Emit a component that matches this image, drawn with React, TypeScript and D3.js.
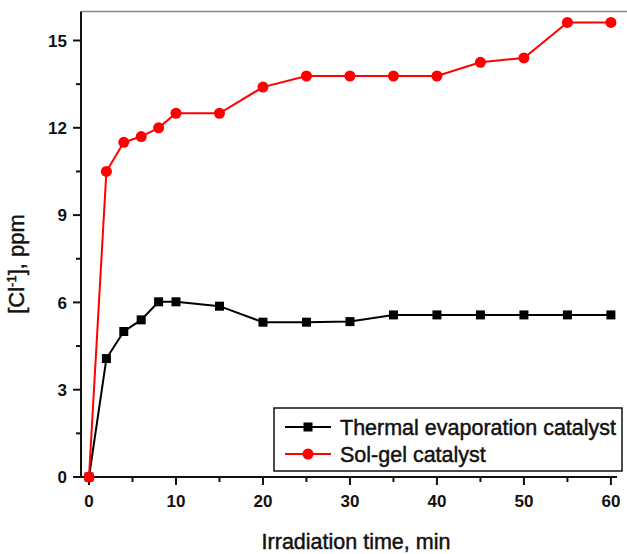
import React from "react";
import * as d3 from "d3";

const times = [0, 2, 4, 6, 8, 10, 15, 20, 25, 30, 35, 40, 45, 50, 55, 60];
const thermal = [0, 4.07, 5.0, 5.4, 6.02, 6.02, 5.87, 5.32, 5.32, 5.34, 5.57, 5.57, 5.57, 5.57, 5.57, 5.57];
const solgel = [0, 10.5, 11.5, 11.7, 12.0, 12.5, 12.5, 13.4, 13.78, 13.78, 13.78, 13.78, 14.25, 14.4, 15.62, 15.62];
const xTicks = [0, 10, 20, 30, 40, 50, 60];
const xMinor = [5, 15, 25, 35, 45, 55];
const yTicks = [0, 3, 6, 9, 12, 15];
const yMinor = [1.5, 4.5, 7.5, 10.5, 13.5];
const seriesNames = ["Thermal evaporation catalyst", "Sol-gel catalyst"];

const W = 627, H = 554;
const font = "'Liberation Sans', Arial, sans-serif";

export default function App() {
  const x = d3.scaleLinear().domain([-0.92, 60.7]).range([81, 617]);
  const y = d3.scaleLinear().domain([0, 16]).range([477, 11.4]);
  const line = d3.line<number>().x((_, i) => x(times[i])).y((v) => y(v));
  const x0 = x.range()[0], x1 = x.range()[1];
  const y0 = y.range()[0], yTop = y.range()[1];
  const txt = { fill: "#111", stroke: "#111", strokeWidth: 0.45 };

  return (
    <svg width={W} height={H} style={{ position: "absolute", left: 0, top: 0, background: "#fff" }} fontFamily={font}>
      {/* top frame */}
      <line x1={x0} x2={W} y1={yTop} y2={yTop} stroke="#888" strokeWidth={1.5} />
      {/* axes */}
      <line x1={x0} x2={x0} y1={yTop} y2={y0} stroke="#111" strokeWidth={2} />
      <line x1={x0} x2={x1} y1={y0} y2={y0} stroke="#111" strokeWidth={2} />
      {yTicks.map((t) => (
        <g key={"yt" + t}>
          <line x1={x0 - 8} x2={x0} y1={y(t)} y2={y(t)} stroke="#111" strokeWidth={2} />
          <text x={x0 - 14} y={y(t)} dy="0.36em" textAnchor="end" fontSize={17} fontWeight="bold" fill="#111">{t}</text>
        </g>
      ))}
      {yMinor.map((t) => (
        <line key={"ym" + t} x1={x0 - 5} x2={x0} y1={y(t)} y2={y(t)} stroke="#111" strokeWidth={2} />
      ))}
      {xTicks.map((t) => (
        <g key={"xt" + t}>
          <line x1={x(t)} x2={x(t)} y1={y0} y2={y0 + 8} stroke="#111" strokeWidth={2} />
          <text x={x(t)} y={y0 + 30} textAnchor="middle" fontSize={17} fontWeight="bold" fill="#111">{t}</text>
        </g>
      ))}
      {xMinor.map((t) => (
        <line key={"xm" + t} x1={x(t)} x2={x(t)} y1={y0} y2={y0 + 5} stroke="#111" strokeWidth={2} />
      ))}
      {/* axis titles */}
      <text x={356} y={549} textAnchor="middle" fontSize={21.5} {...txt}>Irradiation time, min</text>
      <text transform="translate(24,264) rotate(-90)" textAnchor="middle" fontSize={22} {...txt}>
        [Cl<tspan dy={-8} fontSize={13}>-1</tspan><tspan dy={8}>], ppm</tspan>
      </text>
      {/* series */}
      <path d={line(thermal) || ""} fill="none" stroke="#000" strokeWidth={2} />
      <path d={line(solgel) || ""} fill="none" stroke="#f00" strokeWidth={2} />
      {thermal.map((v, i) => (
        <rect key={"s" + i} x={x(times[i]) - 4.5} y={y(v) - 4.5} width={9} height={9} fill="#000" />
      ))}
      {solgel.map((v, i) => (
        <circle key={"c" + i} cx={x(times[i])} cy={y(v)} r={5.5} fill="#f00" />
      ))}
      {/* legend */}
      <rect x={274} y={408} width={348} height={63} fill="#fff" stroke="#111" strokeWidth={1.5} />
      <line x1={285} x2={331} y1={427} y2={427} stroke="#000" strokeWidth={2} />
      <rect x={303.5} y={422.5} width={9} height={9} fill="#000" />
      <text x={340} y={427} dy="0.36em" fontSize={21.5} {...txt}>{seriesNames[0]}</text>
      <line x1={285} x2={331} y1={454} y2={454} stroke="#f00" strokeWidth={2} />
      <circle cx={308} cy={454} r={5.5} fill="#f00" />
      <text x={340} y={454} dy="0.36em" fontSize={21.5} {...txt}>{seriesNames[1]}</text>
    </svg>
  );
}
